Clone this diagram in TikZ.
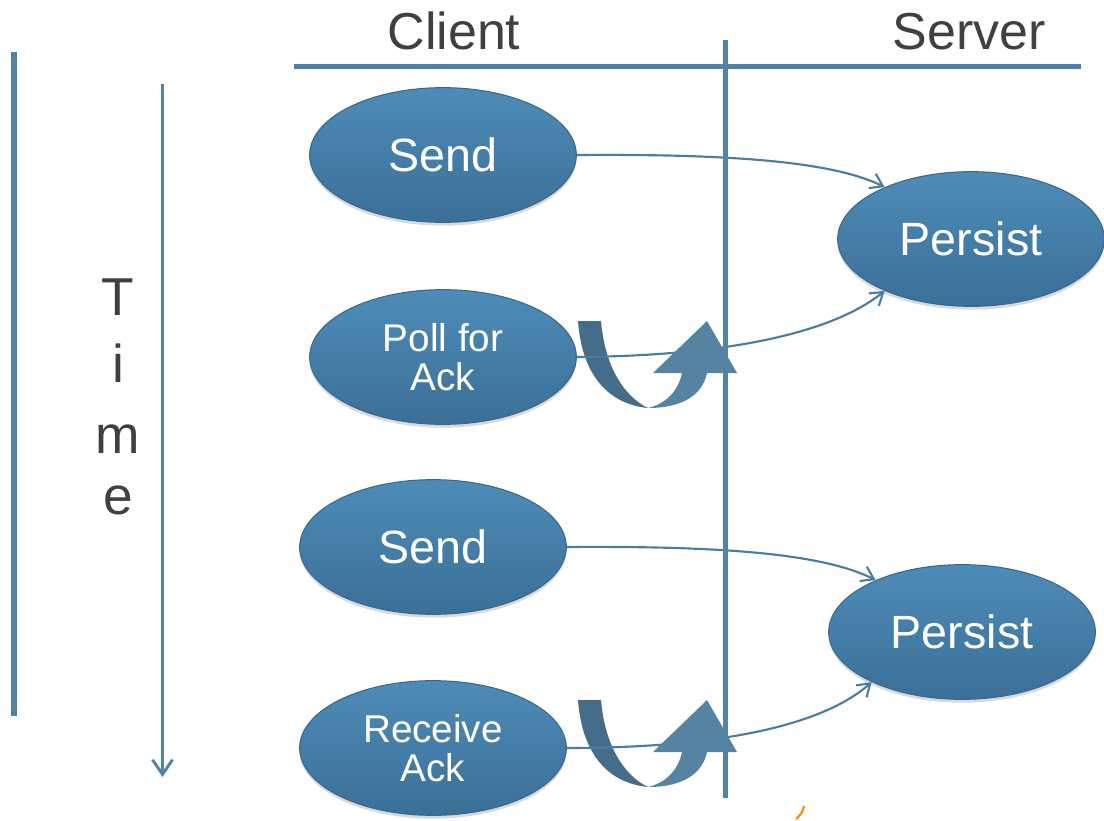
\documentclass[tikz,border=0pt]{standalone}
\usepackage{fontspec}
\setmainfont{Liberation Sans}
\usetikzlibrary{shapes.geometric,arrows.meta,shadows}
\definecolor{linec}{HTML}{5283A6}
\definecolor{connc}{HTML}{4A7DA2}
\definecolor{ellt}{HTML}{4D8CB8}
\definecolor{ellm}{HTML}{4682AE}
\definecolor{ellb}{HTML}{3B6F97}
\definecolor{elld}{HTML}{386891}
\definecolor{darkband}{HTML}{456C88}
\definecolor{lightband}{HTML}{5584A3}
\definecolor{txtgray}{HTML}{404040}
\tikzset{
  ell/.style={ellipse, minimum width=200pt, minimum height=101pt, inner sep=0pt,
    top color=ellt, middle color=ellm, bottom color=ellb, draw=elld, line width=0.8pt, text=white,
    drop shadow={shadow xshift=0pt, shadow yshift=-2.5pt, opacity=0.3}},
  bigtxt/.style={font=\fontsize{35}{36}\selectfont},
  smalltxt/.style={font=\fontsize{29}{29.5}\selectfont, align=center},
  head/.style={font=\fontsize{39}{40}\selectfont, text=txtgray, anchor=base, inner sep=0pt},
  timetxt/.style={font=\fontsize{40}{40}\selectfont, text=txtgray, anchor=base, inner sep=0pt},
  axis/.style={draw=linec, line width=3.5pt},
  conn/.style={draw=connc, line width=1.6pt, -{Straight Barb[length=9pt,width=12pt,line width=1.6pt]}},
}
\begin{document}
\begin{tikzpicture}[x=0.75pt,y=-0.75pt]
\useasboundingbox (0,0) rectangle (1104,821);

% headers
\node[head] (client) at (454,49) {Client};
\node[head] (server) at (969,49) {Server};

% time axis
\coordinate (barT) at (14,52);
\coordinate (barB) at (14,716);
\draw[draw=linec, line width=4.5pt] (barT) -- (barB);
\coordinate (tT) at (162.5,84);
\coordinate (tB) at (162.5,777);
\draw[draw=linec, line width=2.2pt, -{Straight Barb[length=11pt,width=15pt,line width=2.2pt]}] (tT) -- (tB);
\node[timetxt] (lT) at (118,315) {T};
\node[timetxt] (li) at (118,382) {i};
\node[timetxt] (lm) at (118,453) {m};
\node[timetxt] (le) at (118,514) {e};

% ellipses
\node[ell, bigtxt] (send1) at (443,155) {Send};
\node[ell, bigtxt] (persist1) at (971,239) {Persist};
\node[ell, smalltxt] (poll) at (443,357) {Poll for\\Ack};
\node[ell, bigtxt] (send2) at (433,547) {Send};
\node[ell, bigtxt] (persist2) at (962,632) {Persist};
\node[ell, smalltxt] (recv) at (433,748) {Receive\\Ack};

% horizontal header line
\coordinate (hL) at (294,66.5);
\coordinate (hR) at (1081,66.5);
\draw[axis, drop shadow={shadow xshift=0pt, shadow yshift=-2pt, opacity=0.3}] (hL) -- (hR);

% dark bands of u-turn arrows
\foreach \dy in {0,379} {
  \begin{scope}[shift={(0,\dy)}]
    \fill[darkband] (578,321) -- (601,321) .. controls (605,368) and (625,397) .. (648,408)
      .. controls (608,404) and (582,375) .. (578,321) -- cycle;
  \end{scope}
}

% connectors
\draw[conn] (send1.east) .. controls (720,154) and (830,160) .. (persist1.149);
\draw[conn] (poll.east) .. controls (720,356) and (830,335) .. (persist1.211);
\draw[conn] (send2.east) .. controls (710,546) and (820,552) .. (persist2.149);
\draw[conn] (recv.east) .. controls (710,748) and (820,728) .. (persist2.209);

% light bands with arrowheads
\foreach \dy in {0,379} {
  \begin{scope}[shift={(0,\dy)}]
    \fill[lightband] (648,408) .. controls (685,408) and (703,393) .. (707,373)
      -- (737,373) -- (707,321) -- (653,373) -- (682,373)
      .. controls (678,392) and (665,404) .. (648,408) -- cycle;
  \end{scope}
}

% vertical divider
\coordinate (vT) at (725.5,40);
\coordinate (vB) at (725.5,798);
\draw[axis, line width=3.8pt] (vT) -- (vB);

% small orange mark
\draw[draw=orange!90!yellow, line width=1.6pt] (804,806) .. controls (803,813) and (799,816) .. (796,819);
\end{tikzpicture}
\end{document}
